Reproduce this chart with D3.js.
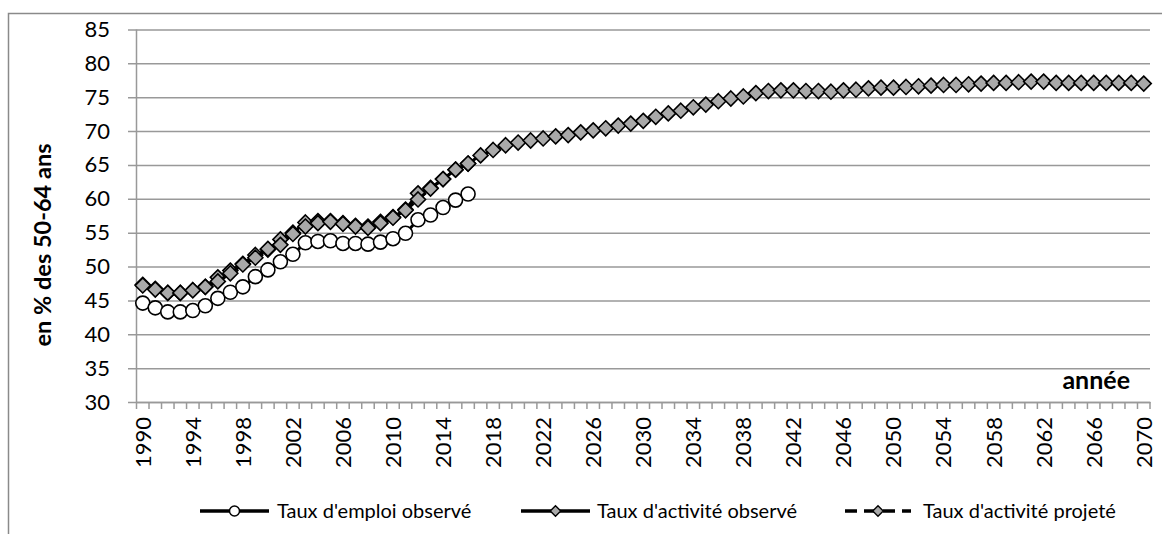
<!DOCTYPE html>
<head>
<meta charset="utf-8">
<title>Taux d'activité 50-64 ans</title>
<script src="https://d3js.org/d3.v7.min.js" charset="utf-8"></script>
<style>
  body { margin: 0; background: #fff; }
  svg { font-family: Lato, "Open Sans", sans-serif; }
</style>
</head>
<body>
<div id="chart"></div>
<script>

// categories (années)
const annees = [1990,1991,1992,1993,1994,1995,1996,1997,1998,1999,
  2000,2001,2002,2003,2004,2005,2006,2007,2008,2009,
  2010,2011,2012,2013,2014,2015,2016,2017,2018,2019,
  2020,2021,2022,2023,2024,2025,2026,2027,2028,2029,
  2030,2031,2032,2033,2034,2035,2036,2037,2038,2039,
  2040,2041,2042,2043,2044,2045,2046,2047,2048,2049,
  2050,2051,2052,2053,2054,2055,2056,2057,2058,2059,
  2060,2061,2062,2063,2064,2065,2066,2067,2068,2069,2070];

const anneesAffichees = [1990,1994,1998,2002,2006,2010,2014,2018,2022,2026,2030,
  2034,2038,2042,2046,2050,2054,2058,2062,2066,2070];

const yTicks = [30,35,40,45,50,55,60,65,70,75,80,85];

// 1990 -> 2016
const emploiObserve = [44.6,43.9,43.3,43.3,43.5,44.2,45.3,46.2,47.0,48.5,
  49.5,50.7,51.8,53.5,53.7,53.8,53.4,53.4,53.3,53.6,
  54.1,54.9,56.9,57.6,58.7,59.8,60.7];

// 1990 -> 2016
const activiteObserve = [47.3,46.7,46.1,46.1,46.5,47.0,48.4,49.4,50.4,51.7,
  52.5,54.0,55.0,56.5,56.7,56.7,56.4,56.0,55.9,56.6,
  57.3,58.4,60.8,61.6,62.9,64.3,65.2];

// 1990 -> 2070
const activiteProjete = [47.2,46.6,46.1,46.1,46.5,47.0,47.8,49.0,50.3,51.3,
  52.6,53.2,54.8,55.9,56.4,56.6,56.3,55.9,55.7,56.4,
  57.2,58.3,59.9,61.5,62.9,64.3,65.2,66.4,67.2,67.9,
  68.3,68.6,68.9,69.2,69.4,69.8,70.1,70.4,70.8,71.1,
  71.5,72.1,72.6,73.0,73.5,73.9,74.4,74.8,75.1,75.6,
  75.9,76.0,76.0,75.9,75.9,75.8,76.0,76.1,76.3,76.4,
  76.4,76.5,76.6,76.7,76.8,76.8,76.9,77.0,77.1,77.1,
  77.2,77.3,77.3,77.1,77.1,77.1,77.1,77.1,77.1,77.1,77.0];

const W = 1162, H = 534;
const gris = "#999999";
const losange = "M0,-7.5L7.5,0L0,7.5L-7.5,0Z";

const svg = d3.select("#chart").append("svg")
  .attr("width", W).attr("height", H);

// cadre
svg.append("rect")
  .attr("x", 8.5).attr("y", 13.5)
  .attr("width", 1300).attr("height", 700)
  .attr("fill", "none").attr("stroke", "#8a8a8a").attr("stroke-width", 1.5);

const x = d3.scaleBand().domain(annees).range([136.5, 1150]);
const y = d3.scaleLinear().domain([30, 85]).range([402, 29.4]);
const bw = x.bandwidth();

// axe Y + quadrillage
const gy = svg.append("g")
  .attr("transform", "translate(1150,0)")
  .call(d3.axisLeft(y).tickValues(yTicks).tickSize(1022).tickPadding(18));
gy.select(".domain").remove();
gy.selectAll("line").attr("stroke", gris).attr("stroke-width", 1.5);
gy.selectAll("text").attr("font-size", 22).attr("fill", "#000")
  .attr("font-family", "Lato, sans-serif");

svg.append("line")
  .attr("x1", 136.5).attr("x2", 136.5)
  .attr("y1", y(85)).attr("y2", y(30))
  .attr("stroke", gris).attr("stroke-width", 1.5);

// axe X
const gx = svg.append("g")
  .attr("transform", `translate(0,${y(30)})`)
  .call(d3.axisBottom(x).tickValues(anneesAffichees).tickSize(0));
gx.select(".domain").attr("stroke", gris).attr("stroke-width", 1.5);
gx.selectAll("text")
  .attr("font-size", 22).attr("fill", "#000")
  .attr("font-family", "Lato, sans-serif")
  .attr("transform", "rotate(-90)")
  .attr("x", -15).attr("y", 0).attr("dy", "0.36em")
  .style("text-anchor", "end");

// petites graduations entre catégories
const bords = annees.map(a => x(a)).concat([x(2070) + bw]);
svg.append("g").selectAll("line")
  .data(bords)
  .join("line")
    .attr("x1", d => d).attr("x2", d => d)
    .attr("y1", y(30)).attr("y2", y(30) + 7)
    .attr("stroke", gris).attr("stroke-width", 1.5);

// titres des axes
svg.append("text")
  .attr("transform", `translate(51,245) rotate(-90)`)
  .attr("text-anchor", "middle")
  .attr("font-size", 23.5).attr("font-weight", "bold")
  .text("en % des 50-64 ans");

svg.append("text")
  .attr("x", 1130).attr("y", 389)
  .attr("text-anchor", "end")
  .attr("font-size", 25).attr("font-weight", "bold")
  .text("année");

function points(valeurs) {
  return valeurs.map((v, i) => ({ annee: annees[i], v: v }));
}

const ligne = d3.line()
  .x(d => x(d.annee) + bw / 2)
  .y(d => y(d.v));

function dessineSerie(valeurs, forme, pointille) {
  const data = points(valeurs);
  svg.append("path")
    .datum(data)
    .attr("fill", "none")
    .attr("stroke", "#000")
    .attr("stroke-width", 3)
    .attr("stroke-dasharray", pointille ? "10,6" : null)
    .attr("d", ligne);

  const g = svg.append("g");
  if (forme == "rond") {
    g.selectAll("circle").data(data).join("circle")
      .attr("cx", d => x(d.annee) + bw / 2)
      .attr("cy", d => y(d.v))
      .attr("r", 7)
      .attr("fill", "#fff").attr("stroke", "#000").attr("stroke-width", 1.6);
  } else {
    g.selectAll("path").data(data).join("path")
      .attr("transform", d => `translate(${x(d.annee) + bw / 2},${y(d.v)})`)
      .attr("d", losange)
      .attr("fill", "#a9a9a9").attr("stroke", "#000").attr("stroke-width", 1.6);
  }
}

dessineSerie(emploiObserve, "rond", false);
dessineSerie(activiteObserve, "losange", false);
dessineSerie(activiteProjete, "losange", true);

// légende
const legende = [
  { nom: "Taux d'emploi observé", x1: 200, x2: 269, forme: "rond", pointille: false, tx: 277 },
  { nom: "Taux d'activité observé", x1: 521, x2: 590, forme: "losange", pointille: false, tx: 597 },
  { nom: "Taux d'activité projeté", x1: 845, x2: 911, forme: "losange", pointille: true, tx: 923 }
];

const ly = 511;
legende.forEach(l => {
  const g = svg.append("g");
  g.append("line")
    .attr("x1", l.x1).attr("x2", l.x2).attr("y1", ly).attr("y2", ly)
    .attr("stroke", "#000").attr("stroke-width", 3.5)
    .attr("stroke-dasharray", l.pointille ? "12,7" : null);
  const cx = (l.x1 + l.x2) / 2;
  if (l.forme == "rond") {
    g.append("circle").attr("cx", cx).attr("cy", ly).attr("r", 5)
      .attr("fill", "#fff").attr("stroke", "#000").attr("stroke-width", 1.5);
  } else {
    g.append("path").attr("transform", `translate(${cx},${ly}) scale(0.7)`)
      .attr("d", losange)
      .attr("fill", "#a9a9a9").attr("stroke", "#000").attr("stroke-width", 2);
  }
  g.append("text").attr("x", l.tx).attr("y", ly).attr("dy", "0.35em")
    .attr("font-size", 20).text(l.nom);
});

</script>
</body>
</html>
